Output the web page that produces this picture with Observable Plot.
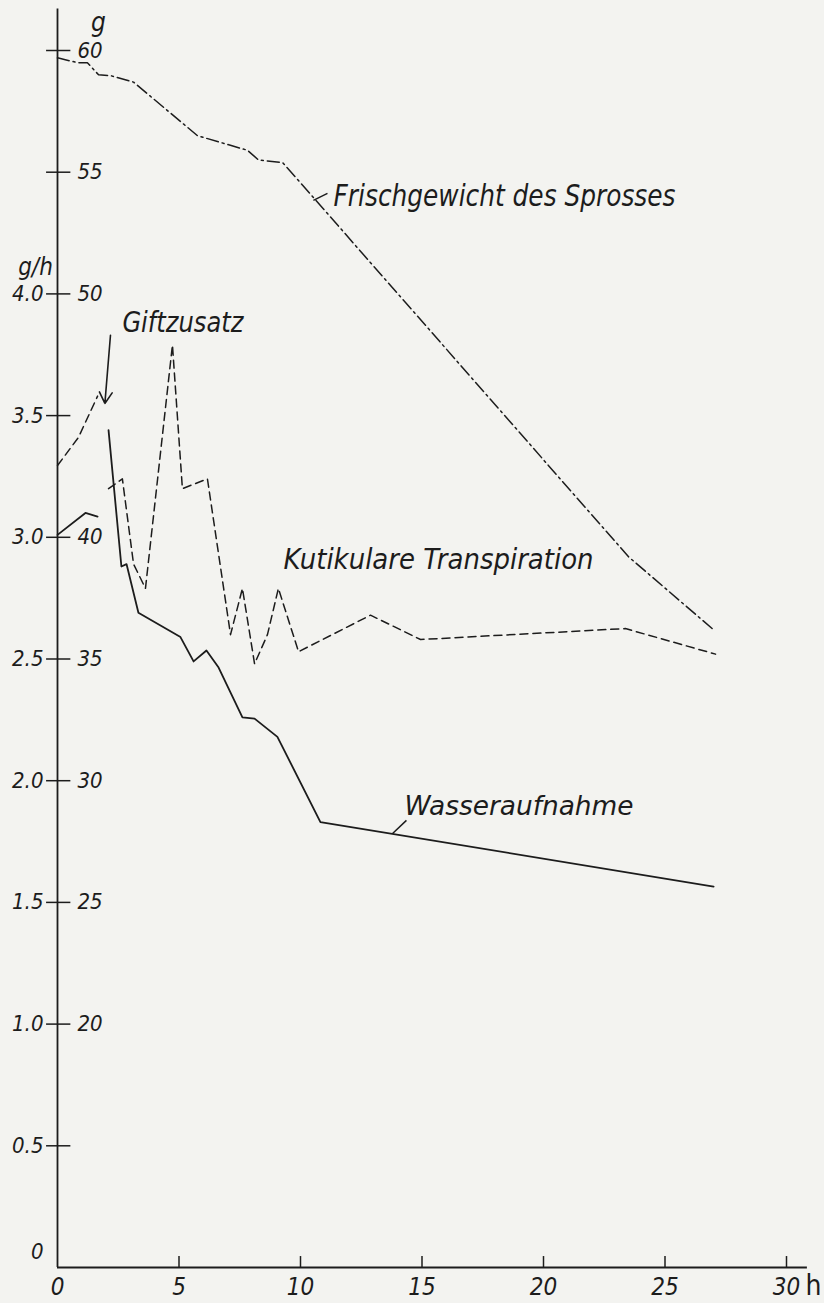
<!DOCTYPE html>
<html><head><meta charset="utf-8">
<script src="https://cdn.jsdelivr.net/npm/d3@7"></script>
<script src="https://cdn.jsdelivr.net/npm/@observablehq/plot@0.6"></script>
<style>
html,body{margin:0;padding:0;background:#f3f3f0;}
#chart{width:824px;height:1303px;}
</style></head><body><div id="chart"></div>
<script>
// --- data ---
const frischHours = [0, 0.82, 1.23, 1.69, 2.18, 3.13, 5.76, 7.82, 8.27, 9.26, 9.88, 23.5, 27.0];
const frischGrams = [59.7, 59.5, 59.5, 59.0, 58.97, 58.7, 56.5, 55.9, 55.5, 55.4, 54.7, 39.2, 36.2];

const kutBeforeHours = [0, 0.86, 1.65];
const kutBeforeRate  = [3.295, 3.41, 3.58];
const kutAfterHours  = [2.10, 2.67, 3.13, 3.62, 4.73, 5.14, 6.17, 7.12, 7.61, 8.11, 8.64, 9.09, 9.92, 12.88, 14.94, 23.37, 27.08];
const kutAfterRate   = [3.20, 3.24, 2.89, 2.79, 3.79, 3.20, 3.24, 2.60, 2.79, 2.48, 2.60, 2.79, 2.53, 2.68, 2.58, 2.625, 2.52];

const wasBeforeHours = [0, 1.15, 1.65];
const wasBeforeRate  = [3.01, 3.10, 3.085];
const wasAfterHours  = [2.10, 2.63, 2.84, 3.33, 5.06, 5.60, 6.13, 6.63, 7.61, 8.11, 9.05, 10.82, 27.0];
const wasAfterRate   = [3.44, 2.88, 2.89, 2.69, 2.59, 2.49, 2.535, 2.465, 2.26, 2.255, 2.18, 1.83, 1.565];

const xTicks = [0, 5, 10, 15, 20, 25, 30];
const rateTicks = [0.5, 1.0, 1.5, 2.0, 2.5, 3.0, 3.5, 4.0];
const rateTickLabels = ["0.5", "1.0", "1.5", "2.0", "2.5", "3.0", "3.5", "4.0"];
const gramTicks = [20, 25, 30, 35, 40, 50, 55, 60];

const seriesLabels = ["Frischgewicht des Sprosses", "Kutikulare Transpiration", "Wasseraufnahme", "Giftzusatz"];

// grams <-> g/h share one axis: g = 10 + 10 * (g/h)
const gToRate = g => (g - 10) / 10;

const zip = (xs, ys, key) => xs.map((x, i) => ({h: x, v: ys[i], seg: key}));
const frisch = frischHours.map((h, i) => ({h, v: gToRate(frischGrams[i])}));
const kut = [...zip(kutBeforeHours, kutBeforeRate, "a"), ...zip(kutAfterHours, kutAfterRate, "b")];
const was = [...zip(wasBeforeHours, wasBeforeRate, "a"), ...zip(wasAfterHours, wasAfterRate, "b")];
const tickPositions = [...rateTicks, gToRate(55), gToRate(60)];

const ink = "#1c1c1c";
const numFont = {fontSize: 22, fontStyle: "italic", fill: ink};

const chart = Plot.plot({
  width: 824,
  height: 1303,
  margin: 0,
  x: {domain: [0, 30], range: [57, 786], axis: null},
  y: {domain: [0, 5], range: [1267, 50], axis: null},
  style: {background: "transparent", fontFamily: "'DejaVu Sans Condensed', 'Liberation Sans Narrow', 'DejaVu Sans', sans-serif", color: ink},
  marks: [
    // axes
    Plot.ruleX([0], {y1: 0, y2: 5.17, stroke: ink, strokeWidth: 1.8}),
    Plot.ruleY([0], {x1: 0, x2: 30.86, stroke: ink, strokeWidth: 1.8}),
    Plot.ruleX(xTicks.filter(d => d > 0), {x: d => d, y1: 0, y2: 0.045, stroke: ink, strokeWidth: 1.5}),
    Plot.text(xTicks, {x: d => d, y: 0, dy: 20, text: d => String(d), ...numFont, fontSize: 24}),
    Plot.text(["h"], {x: 30, y: 0, dx: 19, dy: 19, textAnchor: "start", text: d => d, fontSize: 28, fill: ink}),
    Plot.ruleY(tickPositions, {y: d => d, x1: -0.45, x2: 0.55, stroke: ink, strokeWidth: 1.5}),
    Plot.text(rateTicks, {x: 0, y: d => d, dx: -14, textAnchor: "end", text: (d, i) => rateTickLabels[i], ...numFont}),
    Plot.text(["0"], {x: 0, y: 0, dx: -14, dy: -16, textAnchor: "end", text: d => d, ...numFont}),
    Plot.text(gramTicks, {x: 0, y: gToRate, dx: 20, textAnchor: "start", text: d => String(d), ...numFont}),
    Plot.text(["g"], {x: 0, y: 5, dx: 41, dy: -28, text: d => d, fontSize: 26, fontStyle: "italic", fill: ink}),
    Plot.text(["g/h"], {x: 0, y: 4, dx: -22, dy: -27, text: d => d, fontSize: 24, fontStyle: "italic", fill: ink}),

    // series
    Plot.line(frisch, {x: "h", y: "v", stroke: ink, strokeWidth: 1.5, strokeDasharray: "12,4,2,4"}),
    Plot.line(kut, {x: "h", y: "v", z: "seg", stroke: ink, strokeWidth: 1.5, strokeDasharray: "8,5"}),
    Plot.line(was, {x: "h", y: "v", z: "seg", stroke: ink, strokeWidth: 1.8}),

    // annotations
    Plot.arrow([{x1: 2.18, y1: 3.83, x2: 1.95, y2: 3.55}], {x1: "x1", y1: "y1", x2: "x2", y2: "y2", stroke: ink, strokeWidth: 1.6, headLength: 12, bend: 0}),
    Plot.link([{x1: 10.53, y1: 4.384, x2: 11.11, y2: 4.413}, {x1: 13.79, y1: 1.783, x2: 14.36, y2: 1.837}],
      {x1: "x1", y1: "y1", x2: "x2", y2: "y2", stroke: ink, strokeWidth: 1.5}),
    Plot.text([
      {x: 11.36, y: 4.40, t: seriesLabels[0], s: 30},
      {x: 9.30, y: 2.905, t: seriesLabels[1], s: 28},
      {x: 14.28, y: 1.894, t: seriesLabels[2], s: 26},
      {x: 2.67, y: 3.88, t: seriesLabels[3], s: 28}
    ], {x: "x", y: "y", text: "t", textAnchor: "start", fontSize: "s", fill: ink, fontStyle: "italic"})
  ]
});
document.getElementById("chart").appendChild(chart);

// compress lettering to the narrow stencil widths of the original
const widths = {"Frischgewicht des Sprosses": 342, "Kutikulare Transpiration": 310, "Wasseraufnahme": 229, "Giftzusatz": 121};
chart.querySelectorAll("text").forEach(t => {
  const w = widths[t.textContent];
  if (w) { t.setAttribute("textLength", w); t.setAttribute("lengthAdjust", "spacingAndGlyphs"); }
});
</script></body></html>
